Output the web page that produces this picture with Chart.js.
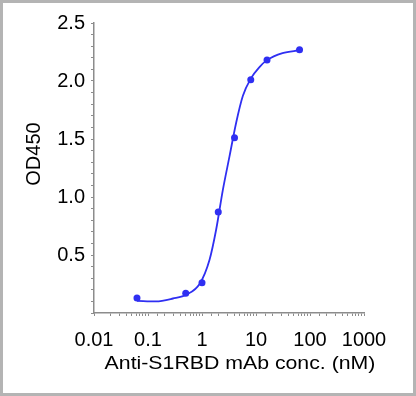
<!DOCTYPE html>
<html>
<head>
<meta charset="utf-8">
<script src="https://cdn.jsdelivr.net/npm/chart.js@4.4.1/dist/chart.umd.min.js"></script>
<style>
  html, body { margin: 0; padding: 0; background: #fff; }
  #wrap { position: relative; width: 416px; height: 396px; }
  #c { position: absolute; left: 0; top: 0; }
  #frame { position: absolute; left: 0; top: 0; width: 416px; height: 396px; box-sizing: border-box; border: 3px solid #b4b4b4; pointer-events: none; }
</style>
</head>
<body>
<div id="wrap">
  <canvas id="c" width="416" height="396"></canvas>
  <div id="frame"></div>
</div>
<script>
// Measured points
const concentrations = [0.0625, 0.5, 1, 2, 4, 8, 16, 64];
const od450 = [0.13, 0.17, 0.26, 0.87, 1.51, 2.01, 2.18, 2.27];

// Fitted curve
const curveConc = [0.0625, 0.14, 0.29, 0.52, 0.9, 1.38, 1.83, 2.43, 3.23, 4.29, 5.7, 8.0, 11.6, 16, 31, 64];
const curveOD = [0.105, 0.10, 0.125, 0.16, 0.25, 0.46, 0.72, 1.06, 1.35, 1.64, 1.87, 2.02, 2.12, 2.18, 2.24, 2.265];

const xTickLabels = [0.01, 0.1, 1, 10, 100, 1000];
const yTickLabels = [0.5, 1.0, 1.5, 2.0, 2.5];

const xTitle = 'Anti-S1RBD mAb conc. (nM)';
const yTitle = 'OD450';

const blue = '#2f2ff2';
const axisGray = '#8c8c8c';
const fontFamily = '"Liberation Sans", Arial, sans-serif';

const titlePlugin = {
  id: 'axisTitles',
  afterDraw(chart) {
    const ctx = chart.ctx;
    ctx.save();
    ctx.fillStyle = '#000';
    ctx.textAlign = 'center';
    ctx.textBaseline = 'middle';
    ctx.save();
    ctx.font = '19px ' + fontFamily;
    ctx.translate(240, 364);
    ctx.scale(1.12, 1);
    ctx.fillText(xTitle, 0, 0);
    ctx.restore();
    ctx.font = '20px ' + fontFamily;
    ctx.translate(34, 154);
    ctx.rotate(-Math.PI / 2);
    ctx.fillText(yTitle, 0, 0);
    ctx.restore();
  }
};

new Chart(document.getElementById('c'), {
  type: 'scatter',
  data: {
    datasets: [
      {
        label: 'fit',
        data: curveConc.map((x, i) => ({ x: x, y: curveOD[i] })),
        showLine: true,
        borderColor: blue,
        borderWidth: 1.8,
        pointRadius: 0,
        cubicInterpolationMode: 'monotone',
        fill: false
      },
      {
        label: 'data',
        data: concentrations.map((x, i) => ({ x: x, y: od450[i] })),
        showLine: false,
        backgroundColor: blue,
        borderColor: blue,
        pointRadius: 3.5,
        pointBorderWidth: 0
      }
    ]
  },
  options: {
    responsive: false,
    animation: false,
    layout: { padding: { left: 0, top: 23, right: 52, bottom: 0 } },
    plugins: { legend: { display: false }, tooltip: { enabled: false } },
    scales: {
      x: {
        type: 'logarithmic',
        min: 0.01,
        max: 1000,
        afterFit(scale) { scale.height = 83; },
        border: { display: true, color: axisGray, width: 1.5 },
        grid: { display: true, drawOnChartArea: false, drawTicks: true, tickLength: 3, color: axisGray },
        ticks: {
          autoSkip: false,
          maxRotation: 0,
          padding: 12,
          color: '#000',
          font: { family: fontFamily, size: 20 },
          callback(value) {
            const hit = xTickLabels.find(t => Math.abs(Math.log10(value) - Math.log10(t)) < 1e-6);
            return hit !== undefined ? String(hit) : '';
          }
        }
      },
      y: {
        type: 'linear',
        min: 0,
        max: 2.5,
        afterFit(scale) { scale.width = 94; },
        border: { display: true, color: axisGray, width: 1.5 },
        grid: { display: true, drawOnChartArea: false, drawTicks: true, tickLength: 3, color: axisGray },
        ticks: {
          stepSize: 0.1,
          autoSkip: false,
          padding: 6,
          color: '#000',
          font: { family: fontFamily, size: 20 },
          callback(value) {
            const hit = yTickLabels.find(t => Math.abs(value - t) < 1e-6);
            return hit !== undefined ? hit.toFixed(1) : '';
          }
        }
      }
    }
  },
  plugins: [titlePlugin]
});
</script>
</body>
</html>
